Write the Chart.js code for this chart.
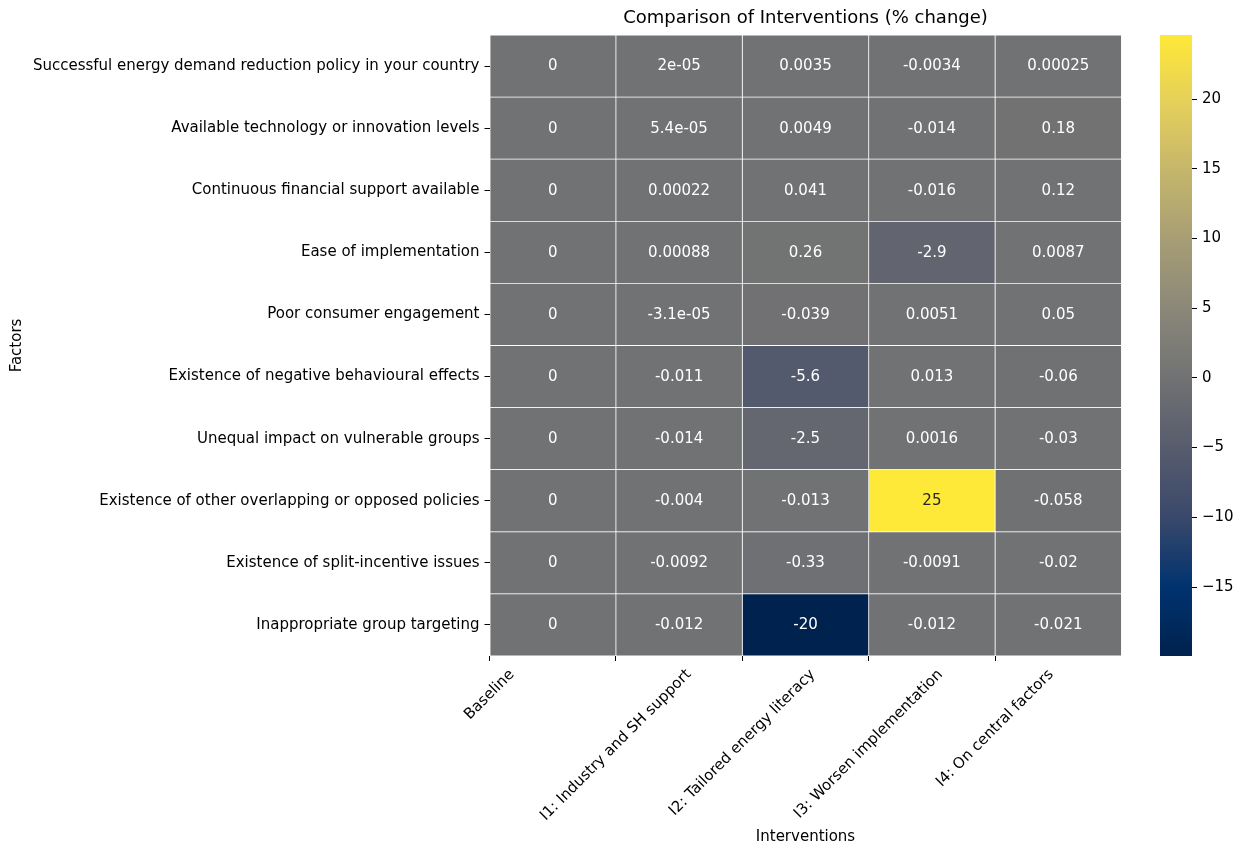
<!DOCTYPE html>
<html><head><meta charset="utf-8">
<script src="https://cdn.jsdelivr.net/npm/chart.js@4.4.1/dist/chart.umd.min.js"></script>
<style>
html,body{margin:0;padding:0;background:#fff;}
#wrap{position:relative;width:1241px;height:846px;background:#fff;}
canvas{position:absolute;left:0;top:0;}
</style></head><body>
<div id="wrap"><canvas id="heat" width="1241" height="846"></canvas><canvas id="cbar" width="1241" height="846"></canvas></div>
<script>
// ---- data ----
const interventions = ['Baseline', 'I1: Industry and SH support', 'I2: Tailored energy literacy', 'I3: Worsen implementation', 'I4: On central factors'];
const factors = [
  'Successful energy demand reduction policy in your country',
  'Available technology or innovation levels',
  'Continuous financial support available',
  'Ease of implementation',
  'Poor consumer engagement',
  'Existence of negative behavioural effects',
  'Unequal impact on vulnerable groups',
  'Existence of other overlapping or opposed policies',
  'Existence of split-incentive issues',
  'Inappropriate group targeting'
];
const baseline = [0, 0, 0, 0, 0, 0, 0, 0, 0, 0];
const i1 = [2e-5, 5.4e-5, 0.00022, 0.00088, -3.1e-5, -0.011, -0.014, -0.004, -0.0092, -0.012];
const i2 = [0.0035, 0.0049, 0.041, 0.26, -0.039, -5.6, -2.5, -0.013, -0.33, -19.95];
const i3 = [-0.0034, -0.014, -0.016, -2.9, 0.0051, 0.013, 0.0016, 24.6, -0.0091, -0.012];
const i4 = [0.00025, 0.18, 0.12, 0.0087, 0.05, -0.06, -0.03, -0.058, -0.02, -0.021];
const colorbarTicks = [-15, -10, -5, 0, 5, 10, 15, 20];

// ---- helpers ----
const columns = [baseline, i1, i2, i3, i4];
const allVals = columns.flat();
const vmin = Math.min(...allVals), vmax = Math.max(...allVals);
const cmap = ['#00224e','#00336f','#39486b','#575c6d','#707173','#8a8779','#a69d75','#c4b56c','#e4cf5b','#fee838'];
const stops = cmap.map((c, i) => [i / (cmap.length - 1), c]);
function hexToRgb(h){ return [parseInt(h.slice(1,3),16), parseInt(h.slice(3,5),16), parseInt(h.slice(5,7),16)]; }
function cmapRgb(t){
  t = Math.max(0, Math.min(1, t));
  const n = cmap.length - 1; const p = t * n; const i = Math.min(Math.floor(p), n - 1); const f = p - i;
  const a = hexToRgb(cmap[i]), b = hexToRgb(cmap[i+1]);
  return a.map((v, k) => Math.round(v + (b[k] - v) * f));
}
function colorFor(v){ const c = cmapRgb((v - vmin) / (vmax - vmin)); return `rgb(${c[0]},${c[1]},${c[2]})`; }
function textColorFor(v){
  const c = cmapRgb((v - vmin) / (vmax - vmin)).map(x => { x /= 255; return x <= 0.03928 ? x / 12.92 : Math.pow((x + 0.055) / 1.055, 2.4); });
  const l = 0.2126 * c[0] + 0.7152 * c[1] + 0.0722 * c[2];
  return l > 0.408 ? '#262626' : '#ffffff';
}
function fmtG(v){
  if (v === 0) return '0';
  const s = v.toExponential(1);
  let [m, e] = s.split('e'); e = parseInt(e, 10);
  if (e < -4 || e >= 2) {
    m = m.replace(/\.0$/, '');
    return m + 'e' + (e < 0 ? '-' : '+') + String(Math.abs(e)).padStart(2, '0');
  }
  let t = v.toFixed(Math.max(0, 1 - e));
  if (t.includes('.')) t = t.replace(/0+$/, '').replace(/\.$/, '');
  return t;
}

const FONT = '"DejaVu Sans", "Liberation Sans", sans-serif';
Chart.defaults.font.family = FONT;
Chart.defaults.color = '#000';
const FS = 15;

const cellText = {
  id: 'cellText',
  afterDatasetsDraw(chart) {
    const {ctx, scales: {x, y}} = chart;
    ctx.save();
    ctx.font = `${FS}px ${FONT}`;
    ctx.textAlign = 'center'; ctx.textBaseline = 'middle';
    columns.forEach((col, c) => col.forEach((v, r) => {
      ctx.fillStyle = textColorFor(v);
      ctx.fillText(fmtG(v), x.getPixelForValue(c + 0.5), y.getPixelForValue(r) + 0.5);
    }));
    ctx.restore();
  }
};
const xLabels = {
  id: 'xLabels',
  afterDraw(chart) {
    const {ctx, scales: {x}} = chart;
    ctx.save();
    ctx.font = `${FS}px ${FONT}`;
    ctx.fillStyle = '#000'; ctx.textAlign = 'center'; ctx.textBaseline = 'middle';
    const h = FS * 1.17, y0 = x.top + 5 + 5, k = Math.SQRT1_2;
    interventions.forEach((lab, i) => {
      const w = ctx.measureText(lab).width;
      const cx = x.getPixelForValue(i), cy = y0 + (w + h) * k / 2;
      ctx.save(); ctx.translate(cx, cy); ctx.rotate(-Math.PI / 4);
      ctx.fillText(lab, 0, 0); ctx.restore();
    });
    ctx.restore();
  }
};

new Chart(document.getElementById('heat'), {
  type: 'bar',
  data: {
    labels: factors,
    datasets: columns.map((col, c) => ({
      label: interventions[c],
      data: col.map(() => [c, c + 1]),
      backgroundColor: col.map(v => colorFor(v)),
      borderColor: '#ffffff', borderWidth: 0.75, borderSkipped: false,
      barPercentage: 1, categoryPercentage: 1, grouped: false
    }))
  },
  options: {
    indexAxis: 'y', responsive: false, animation: false,
    layout: {padding: {left: 0, top: 0, right: 119.5, bottom: 0}},
    plugins: {
      legend: {display: false}, tooltip: {enabled: false},
      title: {display: true, text: 'Comparison of Interventions (% change)', fullSize: false,
        font: {size: 18, weight: 'normal'}, color: '#000', padding: {top: 8, bottom: 5.4}}
    },
    scales: {
      x: {
        type: 'linear', min: 0, max: interventions.length,
        afterBuildTicks: s => { s.ticks = interventions.map((_, i) => ({value: i})); },
        ticks: {display: false},
        grid: {drawOnChartArea: false, drawTicks: true, tickLength: 5, color: '#000', lineWidth: 1},
        border: {display: false},
        title: {display: true, text: 'Interventions', font: {size: FS}, color: '#000', padding: {top: 0, bottom: 0}},
        afterFit: s => { s.height = 190; }
      },
      y: {
        type: 'category', offset: true,
        grid: {offset: false, drawOnChartArea: false, tickLength: 5, color: '#000', lineWidth: 1},
        border: {display: false},
        ticks: {padding: 5, color: '#000', font: {size: FS}, autoSkip: false},
        title: {display: true, text: 'Factors', font: {size: FS}, color: '#000', padding: {top: 8, bottom: 0}},
        afterFit: s => { s.width = 489.5; }
      }
    }
  },
  plugins: [cellText, xLabels]
});

new Chart(document.getElementById('cbar'), {
  type: 'bar',
  data: {
    labels: [''],
    datasets: [{
      data: [[vmin, vmax]],
      backgroundColor: ctx => {
        const a = ctx.chart.chartArea; if (!a) return '#888';
        const g = ctx.chart.ctx.createLinearGradient(0, a.bottom, 0, a.top);
        stops.forEach(([p, c]) => g.addColorStop(p, c));
        return g;
      },
      borderWidth: 0, barPercentage: 1, categoryPercentage: 1
    }]
  },
  options: {
    responsive: false, animation: false,
    layout: {padding: {left: 1160, top: 35, bottom: 190, right: 0}},
    plugins: {legend: {display: false}, tooltip: {enabled: false}},
    scales: {
      x: {display: false},
      y: {
        position: 'right', min: vmin, max: vmax,
        afterBuildTicks: s => { s.ticks = colorbarTicks.map(v => ({value: v})); },
        ticks: {padding: 5, color: '#000', font: {size: FS}, callback: v => String(v).replace('-', '\u2212')},
        grid: {drawOnChartArea: false, tickLength: 5, color: '#000', lineWidth: 1},
        border: {display: false},
        afterFit: s => { s.width = 49; }
      }
    }
  }
});
</script>
</body></html>
